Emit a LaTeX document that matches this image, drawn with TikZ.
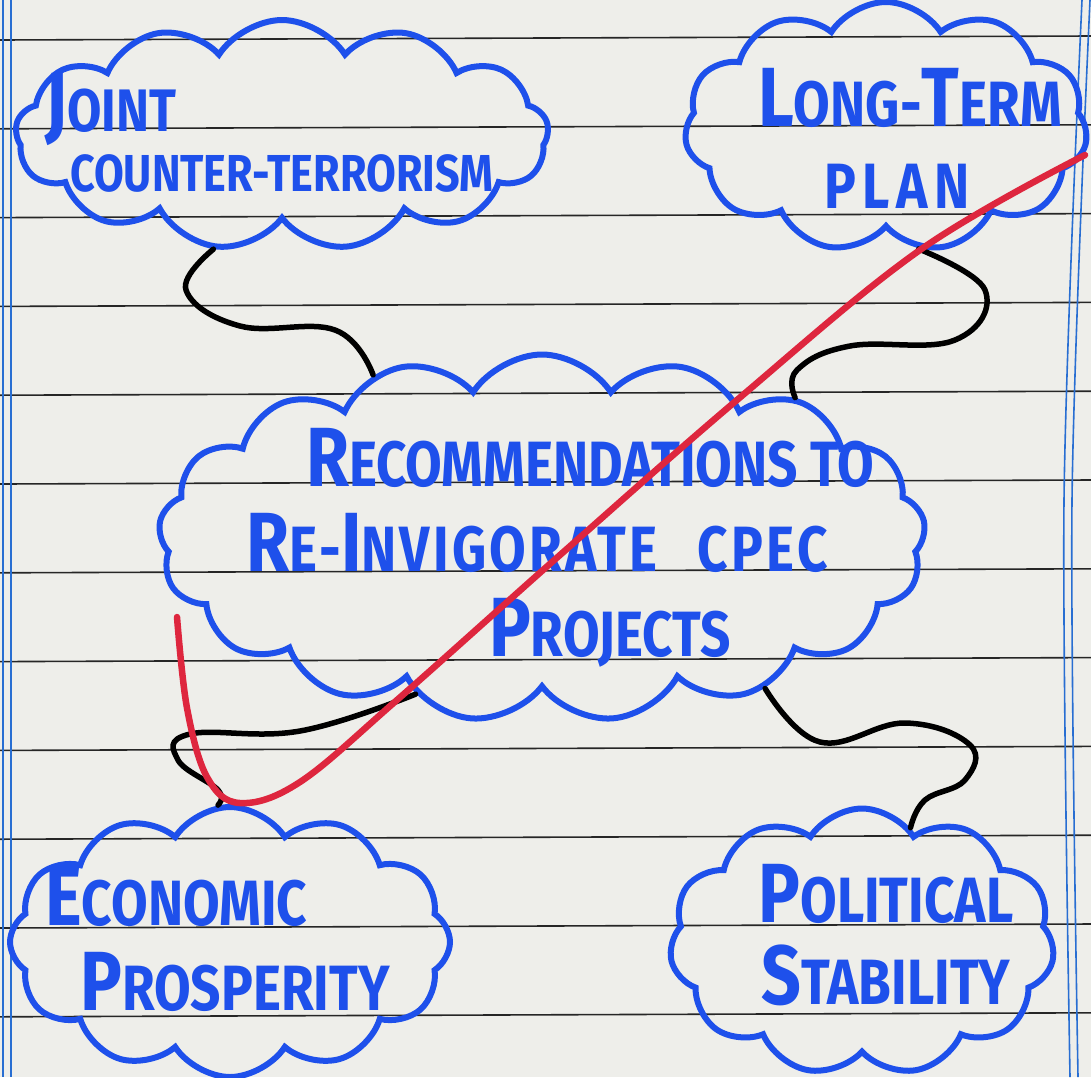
\documentclass[tikz,border=0pt]{standalone}
\usepackage{fontspec}
\setmainfont{Fira Sans}
\newfontfamily\handfont{Fira Sans}[FakeStretch=0.83]
\usetikzlibrary{shapes.symbols}

\definecolor{paper}{RGB}{238,238,234}
\definecolor{inkblue}{RGB}{30,80,235}
\definecolor{marginblue}{RGB}{40,110,210}
\definecolor{tickred}{RGB}{222,38,62}

\newcommand{\bigini}[1]{{\fontsize{84}{84}\selectfont #1}}

\tikzset{
  bubble/.style={cloud, draw=inkblue, line width=6pt, cloud puffs=#1,
    cloud puff arc=115, cloud ignores aspect, inner sep=0pt},
  words/.style={text=inkblue, inner sep=0pt, font=\handfont\bfseries\fontsize{64}{82}\selectfont},
  link/.style={line width=5.5pt, black, line cap=round, smooth, tension=0.7},
}

\begin{document}
\begin{tikzpicture}[x=1pt, y=-1pt]

% ===== paper =====
\fill[paper] (0,0) rectangle (1091,1077);
\useasboundingbox (0,0) rectangle (1091,1077);
\foreach \y in {0,...,11} {
    \draw[black!85, line width=1.6pt] (0,40+88.8*\y) -- (1091,36+88.8*\y);
}
\draw[marginblue, line width=1.6pt] (3,0) -- (3,1077);
\draw[marginblue, line width=1.6pt] (11,0) -- (11,1077);
\draw[marginblue, line width=1.6pt] plot[smooth] coordinates {(1082,0) (1064,500) (1070,1077)};
\draw[marginblue, line width=1.6pt] plot[smooth] coordinates {(1090,0) (1072,500) (1078,1077)};

% ===== clouds =====
\node[bubble=13, minimum width=533pt, minimum height=230pt] (joint) at (282,135) {};
\node[bubble=11, minimum width=403pt, minimum height=250pt] (plan) at (886,127) {};
\node[bubble=17, minimum width=767pt, minimum height=367pt] (recs) at (542,538) {};
\node[bubble=12, minimum width=440pt, minimum height=270pt] (econ) at (230,942) {};
\node[bubble=11, minimum width=385pt, minimum height=267pt] (polit) at (862,942) {};

% ===== texts =====
\node[words, align=left, anchor=west, font=\handfont\bfseries\fontsize{60}{60}\selectfont] (joint-txt) at (45,133)
    {\bigini{J}OINT\\\hspace*{25pt}{\fontsize{52}{52}\selectfont COUNTER-TERRORISM}};
\node[words, align=center] (plan-txt) at (910,138)
    {\bigini{L}ONG-\bigini{T}ERM\\{\addfontfeature{LetterSpace=10}PLAN}\hspace*{26pt}};
\node[words, align=center, font=\handfont\bfseries\fontsize{64}{85}\selectfont] (recs-txt) at (537,548)
    {\hspace*{106pt}\bigini{R}ECOMMENDATIONS TO\\{\addfontfeature{LetterSpace=5}\bigini{R}E-\bigini{I}NVIGORATE\hspace{25pt} CPEC}\\\hspace*{146pt}\bigini{P}ROJECTS};
\node[words, align=left, anchor=west, font=\handfont\bfseries\fontsize{64}{85}\selectfont] (econ-txt) at (45,939)
    {\bigini{E}CONOMIC\\\hspace*{35pt}\bigini{P}ROSPERITY};
\node[words, align=center] (polit-txt) at (886,935)
    {\bigini{P}OLITICAL\\\bigini{S}TABILITY};

% ===== connectors =====
\draw[link] plot coordinates {(joint.239) (186,290) (240,326) (335,330) (recs.136)};
\draw[link] plot coordinates {(plan.285) (985,290) (955,340) (850,346) (797,370) (recs.29)};
\draw[link] plot coordinates {(recs.231) (300,731) (190,734) (178,760) (218,790) (econ.95)};
\draw[link] plot coordinates {(recs.326) (820,742) (905,723) (970,745) (965,780) (925,800) (polit.67)};

% ===== red tick =====
\draw[tickred, line width=6.5pt, line cap=round] plot[smooth, tension=0.6] coordinates
    {(177,617) (187,708) (207,777) (240,803) (300,782) (397,700) (560,555) (737,400) (920,250) (1085,155)};

\end{tikzpicture}
\end{document}
